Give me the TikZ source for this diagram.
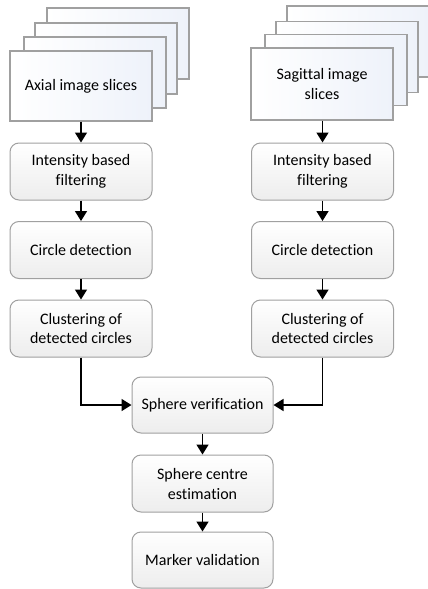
\documentclass[tikz,border=0pt]{standalone}
\usepackage{fontspec}
\setmainfont{Carlito}[Ligatures=NoCommon]
\usetikzlibrary{arrows.meta}
\definecolor{bordergray}{HTML}{A0A0A0}
\definecolor{boxbottom}{HTML}{EDEDED}
\definecolor{stackright}{HTML}{EEF2FA}
\tikzset{
  stepbox/.style={draw=bordergray, line width=1pt, rounded corners=9pt,
    top color=white, bottom color=boxbottom, minimum width=142pt, minimum height=57pt,
    align=center, font=\fontsize{16pt}{20pt}\selectfont, inner sep=2pt},
  slice/.style={draw=bordergray, line width=1.1pt, left color=white, right color=stackright,
    minimum width=142pt, minimum height=71pt, align=center,
    font=\fontsize{16pt}{20pt}\selectfont, inner sep=2pt},
  flow/.style={line width=1.6pt, -{Triangle[length=10pt,width=12pt]}},
}
\begin{document}
\begin{tikzpicture}[x=1pt,y=-1pt]
\useasboundingbox (0,0) rectangle (428,589);
\clip (0,0) rectangle (428,589);
\fill[white] (0,0) rectangle (428,589);
% left stack
\node[slice] (l4) at (118,43.5) {};
\node[slice] (l3) at (106,58.5) {};
\node[slice] (l2) at (95,72.5) {};
\node[slice, minimum height=70pt] (lf) at (81,86) {Axial image slices};
% right stack
\node[slice] (r4) at (358,41.5) {};
\node[slice] (r3) at (347,57) {};
\node[slice] (r2) at (336,70) {};
\node[slice, minimum height=72pt] (rf) at (322,84) {Sagittal image\\slices};
% left column
\node[stepbox] (li) at (81,171.5) {Intensity based\\filtering};
\node[stepbox] (lc) at (81,250) {Circle detection};
\node[stepbox] (lk) at (81,328.5) {Clustering of\\detected circles};
% right column
\node[stepbox] (ri) at (322.5,171.5) {Intensity based\\filtering};
\node[stepbox] (rc) at (322.5,250) {Circle detection};
\node[stepbox] (rk) at (322.5,328.5) {Clustering of\\detected circles};
% middle
\node[stepbox, minimum width=141pt, minimum height=56pt] (sv) at (202.5,405) {Sphere verification};
\node[stepbox, minimum width=141pt] (sc) at (202.5,483.5) {Sphere centre\\estimation};
\node[stepbox, minimum width=141pt, minimum height=56pt] (mv) at (202.5,560) {Marker validation};
% connectors
\draw[flow] (lf.south) -- (li.north);
\draw[flow] (li) -- (lc);
\draw[flow] (lc) -- (lk);
\draw[flow] (rf.south -| ri.north) -- (ri.north);
\draw[flow] (ri) -- (rc);
\draw[flow] (rc) -- (rk);
\draw[flow] (lk.south) |- (sv.west);
\draw[flow] (rk.south) |- (sv.east);
\draw[flow] (sv) -- (sc);
\draw[flow] (sc) -- (mv);
\end{tikzpicture}
\end{document}
